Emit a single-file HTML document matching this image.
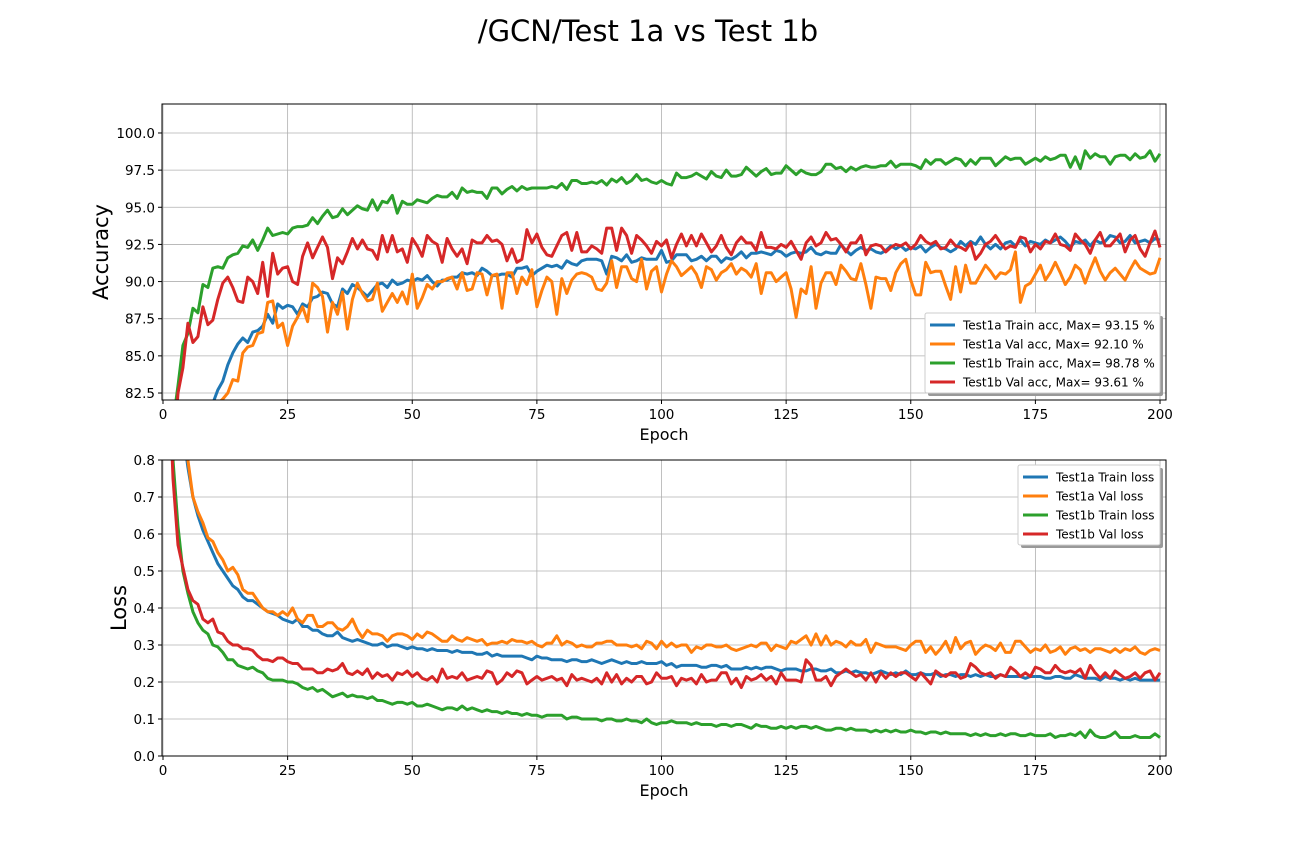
<!DOCTYPE html>
<html><head><meta charset="utf-8"><style>body{margin:0;background:#fff}svg{display:block;font-family:"DejaVu Sans","Liberation Sans",sans-serif}</style></head>
<body>
<svg id="chart" width="1296" height="864" viewBox="0 0 1296 864">
<defs>
<clipPath id="c1"><rect x="162" y="104" width="1004" height="296"/></clipPath>
<clipPath id="c2"><rect x="162" y="460" width="1004" height="296"/></clipPath>
</defs>
<text x="648" y="41" text-anchor="middle" font-size="29">/GCN/Test 1a vs Test 1b</text>
<g id="g1"></g><g id="g2"></g>
</svg>
<script>
const epochs = Array.from({length:200},(_, i)=>i+1);
const accTicks = [82.5,85.0,87.5,90.0,92.5,95.0,97.5,100.0];
const lossTicks = [0.0,0.1,0.2,0.3,0.4,0.5,0.6,0.7,0.8];
const xTicks = [0,25,50,75,100,125,150,175,200];
const test1aTrainAcc=[60,66,70,73,75.5,77,78.5,79.8,80.8,81.8,82.7,83.3,84.4,85.2,85.8,86.2,85.9,86.6,86.7,87.0,87.8,87.2,88.5,88.2,88.4,88.3,87.8,88.5,88.3,88.9,89.0,89.3,89.2,88.5,88.3,89.5,89.2,89.8,89.6,89.3,89.0,89.4,89.8,89.9,89.6,90.1,89.8,89.9,90.1,90.0,90.2,90.1,90.4,90.0,89.7,90.1,90.1,90.3,90.3,90.6,90.5,90.6,90.4,90.9,90.7,90.4,90.4,90.5,90.5,90.3,90.9,90.9,91.0,90.4,90.7,90.9,91.1,91.0,91.1,90.9,91.4,91.2,91.1,91.4,91.5,91.5,91.5,91.4,90.5,91.7,91.6,91.4,91.8,91.3,91.4,91.6,91.5,91.5,91.5,92.1,91.3,91.4,91.8,91.8,91.8,91.4,91.5,91.7,91.4,91.7,91.7,91.3,91.6,91.5,91.7,92.0,91.6,91.9,91.9,92.0,91.9,91.8,92.1,92.0,91.7,91.9,92.0,91.9,92.0,92.3,91.9,91.8,92.0,91.9,91.9,92.5,92.1,91.8,92.1,92.3,92.1,92.2,92.0,91.9,92.1,92.4,92.2,92.4,92.1,92.3,92.2,92.4,92.0,92.3,92.5,92.3,92.2,92.0,92.2,92.7,92.4,92.7,92.5,93.0,92.5,92.2,92.5,92.2,92.6,92.7,92.4,92.8,92.4,92.7,92.6,92.5,92.8,92.6,92.8,93.0,92.7,92.3,92.7,92.6,92.8,92.4,92.8,92.6,92.7,93.1,93.0,92.6,92.7,93.1,92.6,92.7,92.8,92.6,92.9,92.8];
const test1aValAcc=[55,62,67,71,74,76,78,79.5,80.5,81.5,81.8,82.1,82.5,83.4,83.3,85.2,85.6,85.7,86.5,86.6,88.6,88.7,86.9,87.2,85.7,87.0,87.6,88.3,87.3,89.9,89.6,89.0,86.6,88.6,87.8,89.3,86.8,88.8,89.9,89.2,88.7,88.8,89.9,88.0,88.6,89.2,88.6,89.3,88.5,90.5,88.2,88.9,89.8,89.5,90.0,90.0,90.2,90.3,89.5,90.6,89.4,89.5,90.6,90.5,89.1,90.4,90.5,88.2,90.6,90.6,89.2,90.3,89.8,90.8,88.3,89.4,90.3,90.0,87.8,90.2,89.2,90.1,90.5,90.6,90.5,90.3,89.5,89.4,89.9,91.4,89.6,91.0,91.0,90.2,90.0,91.5,89.5,90.7,91.0,89.3,90.5,91.4,91.0,90.4,90.7,91.0,90.5,89.6,91.0,90.8,90.1,90.6,90.8,91.2,90.5,90.9,90.7,90.3,91.2,89.2,90.6,90.6,90.0,90.3,90.6,89.5,87.6,89.5,89.2,91.0,88.2,89.9,90.6,90.6,89.8,91.1,90.7,90.2,90.1,91.2,89.8,88.2,90.3,90.2,90.2,89.4,90.6,91.2,91.5,90.1,89.1,89.1,91.3,90.6,90.7,90.7,89.7,88.8,91.0,89.3,91.1,89.9,89.9,90.5,91.1,90.7,90.2,90.6,90.5,90.8,92.0,88.6,89.7,89.9,90.5,91.1,90.1,90.6,91.3,90.6,89.8,90.3,91.1,90.8,89.9,90.8,91.6,90.7,90.1,90.6,90.9,90.5,90.1,90.8,91.4,90.9,90.7,90.5,90.6,91.6];
const test1bTrainAcc=[72,80.5,83,85.7,86.5,88.2,87.9,89.8,89.6,90.9,91.0,90.9,91.6,91.8,91.9,92.4,92.3,92.8,92.1,92.8,93.6,93.1,93.2,93.3,93.2,93.6,93.7,93.7,93.8,94.3,93.9,94.4,94.8,94.3,94.4,94.9,94.5,94.8,95.1,94.9,94.8,95.5,94.8,95.4,95.3,95.8,94.6,95.4,95.2,95.2,95.5,95.4,95.3,95.6,95.8,95.7,95.7,96.0,95.6,96.3,96.0,96.1,96.0,96.0,95.6,96.3,96.3,95.9,96.2,96.4,96.1,96.4,96.2,96.3,96.3,96.3,96.3,96.4,96.3,96.6,96.2,96.8,96.8,96.6,96.6,96.7,96.6,96.8,96.5,96.9,96.7,97.0,96.6,96.8,97.2,96.8,96.9,96.7,96.6,96.8,96.6,96.5,97.3,97.0,97.0,97.1,97.3,97.1,96.9,97.4,97.1,97.0,97.5,97.1,97.1,97.2,97.7,97.4,97.1,97.4,97.6,97.2,97.3,97.3,97.8,97.5,97.2,97.5,97.3,97.2,97.2,97.4,97.9,97.9,97.6,97.7,97.4,97.7,97.5,97.7,97.8,97.7,97.7,97.8,97.8,98.1,97.7,97.9,97.9,97.9,97.8,97.6,98.2,97.9,98.2,98.2,97.9,98.1,98.3,98.2,97.8,98.2,97.9,98.3,98.3,98.3,97.8,98.1,98.4,98.2,98.3,98.3,97.9,98.1,98.3,98.1,98.4,98.2,98.3,98.5,98.5,97.7,98.4,97.6,98.8,98.3,98.6,98.4,98.4,97.9,98.4,98.5,98.5,98.2,98.6,98.3,98.4,98.8,98.1,98.6];
const test1bValAcc=[70,78,82.5,84.2,87.2,85.9,86.3,88.3,87.1,87.4,88.8,89.9,90.3,89.6,88.7,88.6,90.3,90.0,89.2,91.3,89.0,91.9,90.5,90.9,91.0,90.0,89.8,91.7,92.6,91.6,92.3,93.0,92.3,90.2,91.6,91.2,92.0,92.9,92.2,92.8,92.2,92.1,91.5,93.1,92.0,93.1,92.0,92.2,91.3,92.9,92.4,91.7,93.1,92.7,92.5,91.3,92.9,92.2,91.7,92.2,91.2,92.8,92.6,92.6,93.1,92.7,92.8,92.5,91.4,92.2,91.3,91.5,93.5,92.6,93.2,92.3,91.8,91.7,92.4,93.1,93.3,92.1,93.3,92.0,92.0,92.4,92.2,91.9,93.6,93.6,92.1,93.6,93.1,91.9,93.1,92.8,92.4,91.9,92.7,92.4,92.8,91.6,92.5,93.2,92.4,93.1,92.4,93.2,92.6,92.0,92.4,93.1,92.3,91.8,92.6,93.0,92.6,92.6,92.1,93.3,92.3,92.3,92.2,92.5,92.3,92.7,92.1,91.5,92.6,93.0,92.4,92.6,93.3,92.8,92.9,92.5,92.0,92.6,92.6,93.1,91.8,92.4,92.5,92.4,92.0,92.3,92.5,92.4,92.6,92.2,92.5,93.1,92.7,92.5,92.7,92.2,92.3,92.8,92.4,92.3,92.1,92.6,91.5,91.9,92.5,92.7,93.1,92.6,92.2,92.4,92.3,93.0,92.9,92.0,92.5,92.2,92.7,92.6,93.2,92.5,92.4,92.1,93.2,92.8,92.5,91.9,92.8,93.3,92.4,92.4,92.8,93.2,92.0,92.8,93.1,92.2,91.7,92.6,93.4,92.3];
const test1aTrainLoss=[1.5,1.2,1.0,0.88,0.78,0.70,0.65,0.61,0.58,0.55,0.52,0.50,0.48,0.46,0.45,0.43,0.42,0.42,0.41,0.40,0.39,0.385,0.38,0.37,0.365,0.36,0.37,0.35,0.35,0.34,0.34,0.33,0.325,0.325,0.335,0.32,0.315,0.31,0.315,0.31,0.305,0.30,0.30,0.305,0.295,0.30,0.30,0.295,0.29,0.295,0.29,0.29,0.285,0.29,0.285,0.285,0.285,0.28,0.285,0.28,0.28,0.28,0.275,0.275,0.28,0.27,0.275,0.27,0.27,0.27,0.27,0.27,0.265,0.26,0.27,0.265,0.265,0.26,0.26,0.26,0.255,0.26,0.26,0.255,0.255,0.26,0.255,0.25,0.255,0.26,0.255,0.25,0.255,0.25,0.25,0.255,0.25,0.25,0.25,0.255,0.245,0.25,0.24,0.245,0.245,0.245,0.245,0.24,0.24,0.245,0.245,0.24,0.245,0.235,0.235,0.235,0.24,0.235,0.24,0.235,0.24,0.24,0.235,0.23,0.235,0.235,0.235,0.23,0.23,0.235,0.235,0.23,0.23,0.235,0.225,0.225,0.23,0.225,0.23,0.225,0.225,0.22,0.225,0.23,0.225,0.22,0.225,0.22,0.23,0.22,0.22,0.225,0.22,0.22,0.225,0.215,0.22,0.22,0.215,0.22,0.22,0.215,0.22,0.215,0.22,0.215,0.215,0.22,0.215,0.215,0.215,0.215,0.21,0.215,0.215,0.215,0.21,0.21,0.215,0.215,0.21,0.21,0.22,0.215,0.21,0.21,0.21,0.205,0.215,0.21,0.21,0.205,0.21,0.205,0.21,0.205,0.205,0.205,0.205,0.205];
const test1aValLoss=[1.6,1.3,1.05,0.92,0.80,0.70,0.66,0.63,0.59,0.58,0.55,0.53,0.50,0.51,0.49,0.45,0.44,0.44,0.42,0.40,0.39,0.39,0.38,0.39,0.38,0.40,0.37,0.36,0.38,0.38,0.35,0.35,0.36,0.36,0.345,0.34,0.35,0.37,0.34,0.32,0.34,0.33,0.33,0.325,0.31,0.325,0.33,0.33,0.325,0.315,0.33,0.32,0.335,0.33,0.32,0.31,0.31,0.325,0.315,0.31,0.32,0.315,0.31,0.315,0.30,0.305,0.305,0.31,0.305,0.315,0.31,0.31,0.305,0.31,0.30,0.295,0.305,0.305,0.325,0.30,0.31,0.305,0.295,0.30,0.295,0.295,0.305,0.305,0.31,0.31,0.30,0.30,0.30,0.295,0.30,0.29,0.31,0.305,0.29,0.31,0.295,0.305,0.295,0.30,0.30,0.28,0.295,0.29,0.30,0.30,0.295,0.295,0.30,0.29,0.285,0.29,0.295,0.30,0.295,0.305,0.305,0.285,0.30,0.295,0.29,0.31,0.305,0.315,0.325,0.30,0.33,0.30,0.325,0.30,0.31,0.305,0.295,0.31,0.30,0.30,0.315,0.28,0.305,0.30,0.295,0.295,0.295,0.29,0.285,0.30,0.31,0.31,0.28,0.295,0.275,0.29,0.31,0.28,0.32,0.29,0.305,0.31,0.275,0.29,0.30,0.295,0.285,0.305,0.28,0.28,0.31,0.31,0.295,0.28,0.29,0.285,0.30,0.28,0.285,0.295,0.275,0.29,0.295,0.285,0.29,0.28,0.29,0.29,0.285,0.28,0.29,0.28,0.29,0.285,0.295,0.28,0.275,0.285,0.29,0.285];
const test1bTrainLoss=[1.2,0.80,0.62,0.50,0.44,0.39,0.36,0.34,0.33,0.30,0.295,0.28,0.26,0.26,0.245,0.24,0.235,0.24,0.23,0.225,0.21,0.205,0.205,0.205,0.20,0.20,0.195,0.185,0.18,0.185,0.175,0.18,0.17,0.16,0.165,0.17,0.16,0.165,0.16,0.16,0.155,0.16,0.15,0.15,0.145,0.14,0.145,0.145,0.14,0.145,0.135,0.135,0.14,0.135,0.13,0.125,0.13,0.13,0.125,0.135,0.125,0.13,0.125,0.12,0.125,0.12,0.12,0.115,0.12,0.115,0.115,0.11,0.115,0.11,0.11,0.105,0.11,0.11,0.11,0.11,0.10,0.105,0.105,0.10,0.10,0.10,0.10,0.095,0.10,0.10,0.095,0.095,0.10,0.095,0.095,0.09,0.10,0.09,0.085,0.09,0.09,0.095,0.09,0.09,0.09,0.085,0.09,0.085,0.085,0.085,0.08,0.085,0.085,0.08,0.085,0.085,0.08,0.075,0.085,0.08,0.08,0.075,0.075,0.08,0.075,0.08,0.075,0.08,0.08,0.075,0.08,0.075,0.07,0.07,0.075,0.075,0.07,0.075,0.07,0.07,0.07,0.065,0.07,0.065,0.07,0.065,0.07,0.065,0.065,0.07,0.065,0.065,0.06,0.065,0.065,0.06,0.065,0.06,0.06,0.06,0.06,0.055,0.06,0.055,0.06,0.055,0.055,0.06,0.055,0.06,0.06,0.055,0.055,0.06,0.055,0.055,0.055,0.06,0.05,0.055,0.055,0.06,0.055,0.065,0.05,0.07,0.055,0.05,0.05,0.055,0.065,0.05,0.05,0.05,0.055,0.05,0.05,0.05,0.06,0.05];
const test1bValLoss=[1.1,0.75,0.57,0.51,0.45,0.42,0.41,0.37,0.36,0.37,0.335,0.33,0.31,0.30,0.30,0.29,0.29,0.285,0.27,0.26,0.26,0.255,0.265,0.265,0.255,0.25,0.25,0.235,0.235,0.235,0.225,0.225,0.235,0.23,0.235,0.25,0.225,0.22,0.23,0.22,0.235,0.21,0.225,0.215,0.22,0.205,0.225,0.22,0.23,0.215,0.225,0.21,0.205,0.215,0.20,0.235,0.21,0.215,0.21,0.225,0.205,0.21,0.215,0.21,0.23,0.225,0.195,0.205,0.225,0.215,0.23,0.225,0.195,0.205,0.215,0.205,0.21,0.215,0.205,0.21,0.19,0.22,0.205,0.21,0.205,0.20,0.21,0.195,0.225,0.20,0.22,0.195,0.21,0.20,0.215,0.215,0.195,0.20,0.225,0.21,0.21,0.215,0.19,0.21,0.205,0.21,0.195,0.22,0.20,0.205,0.205,0.225,0.225,0.195,0.21,0.185,0.215,0.205,0.21,0.22,0.205,0.215,0.195,0.225,0.205,0.205,0.205,0.20,0.26,0.245,0.205,0.205,0.215,0.19,0.215,0.225,0.235,0.225,0.215,0.22,0.205,0.225,0.20,0.225,0.21,0.225,0.215,0.225,0.225,0.215,0.205,0.225,0.21,0.195,0.23,0.22,0.215,0.225,0.225,0.21,0.215,0.25,0.24,0.225,0.22,0.225,0.21,0.22,0.215,0.24,0.23,0.215,0.225,0.215,0.24,0.235,0.225,0.225,0.245,0.23,0.225,0.23,0.225,0.235,0.21,0.245,0.225,0.21,0.225,0.21,0.23,0.22,0.21,0.215,0.225,0.21,0.225,0.23,0.205,0.225];

const NS='http://www.w3.org/2000/svg';
const colors=['#1f77b4','#ff7f0e','#2ca02c','#d62728'];
function mk(tag,attrs,parent){const e=document.createElementNS(NS,tag);for(const k in attrs)e.setAttribute(k,attrs[k]);parent.appendChild(e);return e;}
function panel(g,clip,top,ymin,ymax,series,yTicks,yFmt,yTitle,legendNames,leg){
  const L=162,W=1004,H=296,xmin=-0.2,xmax=201.2;
  const xs=v=>L+(v-xmin)/(xmax-xmin)*W;
  const ys=v=>top+H-(v-ymin)/(ymax-ymin)*H;
  xTicks.forEach(t=>{
    const l=mk('line',{x1:xs(t),x2:xs(t),y1:top,y2:top+H,stroke:'#b0b0b0','stroke-width':0.8},g);
    
    
    mk('line',{x1:xs(t),x2:xs(t),y1:top+H,y2:top+H+4,stroke:'#000'},g);
    const tx=mk('text',{x:xs(t),y:top+H+19,'text-anchor':'middle','font-size':13.5},g);tx.textContent=t;
    
    
  });
  yTicks.forEach(t=>{
    const l=mk('line',{x1:L,x2:L+W,y1:ys(t),y2:ys(t),stroke:'#b0b0b0','stroke-width':0.8},g);
    
    
    mk('line',{x1:L-4,x2:L,y1:ys(t),y2:ys(t),stroke:'#000'},g);
    const tx=mk('text',{x:L-7,y:ys(t)+5,'text-anchor':'end','font-size':13.5},g);tx.textContent=yFmt(t);
    
    
  });
  const cg=mk('g',{'clip-path':'url(#'+clip+')'},g);
  series.forEach((s,k)=>{
    const p=mk('polyline',{points:s.map((v,i)=>xs(epochs[i]).toFixed(1)+','+ys(v).toFixed(1)).join(' '),fill:'none',stroke:colors[k],'stroke-width':3,'stroke-linejoin':'round'},cg);
    
    
  });
  const fr=mk('rect',{x:L,y:top,width:W,height:H,fill:'none',stroke:'#000','stroke-width':1},g);
  
  
  const xt=mk('text',{x:L+W/2,y:top+H+40,'text-anchor':'middle','font-size':16},g);xt.textContent='Epoch';
  
  
  const yt=mk('text',{x:0,y:0,'text-anchor':'middle','font-size':21,transform:'translate('+(leg.ytx)+','+(top+H/2)+') rotate(-90)'},g);yt.textContent=yTitle;
  
  
  const lg=mk('g',{},g);
  
  
  mk('rect',{x:leg.x+3,y:leg.y+3,width:leg.w,height:leg.h,fill:'#999',rx:2},lg);
  mk('rect',{x:leg.x,y:leg.y,width:leg.w,height:leg.h,fill:'#fff',stroke:'#ccc',rx:2},lg);
  legendNames.forEach((n,k)=>{
    const yy=leg.y+12+k*leg.dy;
    mk('line',{x1:leg.x+5,x2:leg.x+30,y1:yy,y2:yy,stroke:colors[k],'stroke-width':3},lg);
    const t=mk('text',{x:leg.x+38,y:yy+4.5,'font-size':leg.fs},lg);t.textContent=n;
    
    
  });
}
panel(document.getElementById('g1'),'c1',104,82.03,101.95,[test1aTrainAcc,test1aValAcc,test1bTrainAcc,test1bValAcc],accTicks,t=>t.toFixed(1),'Accuracy',
 ['Test1a Train acc, Max= 93.15 %','Test1a Val acc, Max= 92.10 %','Test1b Train acc, Max= 98.78 %','Test1b Val acc, Max= 93.61 %'],{x:925,y:313,w:235,h:80,dy:19,fs:12,ytx:108});
panel(document.getElementById('g2'),'c2',460,0,0.8,[test1aTrainLoss,test1aValLoss,test1bTrainLoss,test1bValLoss],lossTicks,t=>t.toFixed(1),'Loss',
 ['Test1a Train loss','Test1a Val loss','Test1b Train loss','Test1b Val loss'],{x:1018,y:465,w:142,h:80,dy:19,fs:12,ytx:126});
</script>
</body></html>
